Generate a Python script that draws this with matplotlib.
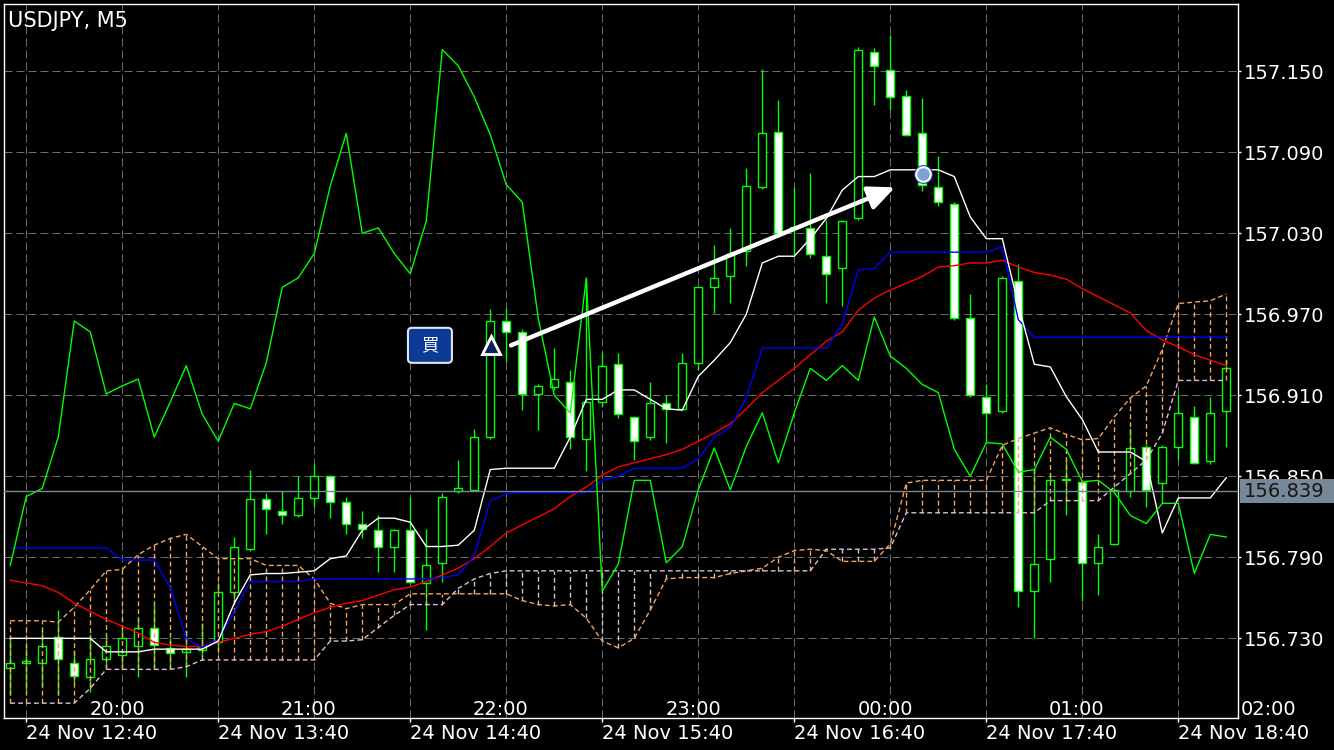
import matplotlib
matplotlib.use("Agg")
import matplotlib.pyplot as plt
import matplotlib.transforms as mtransforms
from matplotlib.patches import Rectangle, FancyBboxPatch
import numpy as np

plt.rcParams['font.family'] = ['DejaVu Sans']

# USDJPY M5 bars, left to right
opens = [156.708, 156.712, 156.712, 156.731, 156.712, 156.701, 156.715, 156.718, 156.724, 156.738,
         156.723, 156.720, 156.721, 156.727, 156.764, 156.796, 156.833, 156.824, 156.821, 156.834,
         156.850, 156.831, 156.815, 156.810, 156.798, 156.810, 156.771, 156.786, 156.839, 156.840,
         156.879, 156.965, 156.957, 156.911, 156.916, 156.920, 156.878, 156.905, 156.933, 156.894,
         156.879, 156.904, 156.900, 156.934, 156.990, 156.998, 157.017, 157.064, 157.105, 157.035,
         157.034, 157.013, 157.004, 157.041, 157.164, 157.151, 157.132, 157.104, 157.064, 157.052,
         156.967, 156.909, 156.898, 156.995, 156.765, 156.789, 156.848, 156.846, 156.786, 156.800,
         156.839, 156.872, 156.845, 156.872, 156.894, 156.861, 156.898]
highs = [156.730, 156.725, 156.736, 156.751, 156.721, 156.733, 156.731, 156.740, 156.744, 156.755,
         156.730, 156.736, 156.741, 156.771, 156.805, 156.855, 156.838, 156.839, 156.850, 156.859,
         156.851, 156.835, 156.824, 156.821, 156.811, 156.835, 156.811, 156.838, 156.862, 156.885,
         156.974, 156.975, 156.959, 156.918, 156.945, 156.929, 156.997, 156.942, 156.941, 156.895,
         156.920, 156.910, 156.941, 156.991, 157.021, 157.034, 157.078, 157.152, 157.129, 157.064,
         157.075, 157.040, 157.040, 157.168, 157.167, 157.177, 157.136, 157.130, 157.087, 157.053,
         156.985, 156.918, 156.998, 157.007, 156.856, 156.852, 156.862, 156.847, 156.807, 156.841,
         156.886, 156.873, 156.873, 156.911, 156.902, 156.909, 156.936]
lows = [156.688, 156.692, 156.694, 156.688, 156.697, 156.690, 156.707, 156.707, 156.701, 156.707,
        156.707, 156.701, 156.714, 156.721, 156.757, 156.795, 156.807, 156.815, 156.820, 156.827,
        156.819, 156.807, 156.804, 156.779, 156.779, 156.771, 156.736, 156.772, 156.838, 156.839,
        156.878, 156.935, 156.899, 156.884, 156.914, 156.870, 156.854, 156.901, 156.893, 156.862,
        156.877, 156.875, 156.899, 156.929, 156.971, 156.978, 157.006, 157.063, 157.027, 157.014,
        157.012, 156.978, 156.976, 157.040, 157.125, 157.121, 157.102, 157.061, 157.050, 156.966,
        156.909, 156.875, 156.897, 156.753, 156.730, 156.772, 156.821, 156.758, 156.762, 156.799,
        156.835, 156.827, 156.830, 156.862, 156.859, 156.859, 156.872]
closes = [156.712, 156.713, 156.724, 156.715, 156.702, 156.715, 156.724, 156.730, 156.738, 156.725,
          156.719, 156.722, 156.724, 156.764, 156.798, 156.833, 156.826, 156.821, 156.834, 156.850,
          156.831, 156.815, 156.811, 156.798, 156.810, 156.772, 156.784, 156.835, 156.841, 156.879,
          156.965, 156.957, 156.911, 156.917, 156.922, 156.879, 156.905, 156.932, 156.896, 156.876,
          156.904, 156.900, 156.934, 156.990, 156.997, 157.015, 157.065, 157.104, 157.030, 157.034,
          157.015, 157.000, 157.039, 157.166, 157.154, 157.131, 157.103, 157.066, 157.053, 156.967,
          156.910, 156.897, 156.997, 156.765, 156.785, 156.847, 156.847, 156.786, 156.798, 156.840,
          156.871, 156.840, 156.872, 156.897, 156.860, 156.897, 156.930]

# Ichimoku lines
tenkan = [156.730] * 6 + [156.720] * 3 + [156.722] * 4 + [
    156.728, 156.756, 156.777, 156.778, 156.778, 156.779, 156.780, 156.789, 156.791, 156.810,
    156.819, 156.819, 156.816, 156.798, 156.798, 156.799, 156.810, 156.855] + [156.856] * 4 + [
    156.879, 156.907, 156.907, 156.914, 156.914, 156.907, 156.900, 156.899, 156.924, 156.936,
    156.949, 156.970, 157.008, 157.013, 157.013, 157.026, 157.041, 157.062, 157.072, 157.072] + [157.077] * 4 + [
    157.072, 157.042, 157.026, 157.026, 156.977, 156.933, 156.931, 156.909, 156.892] + [156.868] * 3 + [
    156.861, 156.808] + [156.834] * 3 + [156.849]
kijun = [156.797] * 7 + [156.788] * 3 + [156.768, 156.730, 156.723, 156.729, 156.750] + [156.772] * 4 + \
    [156.774] * 8 + [156.775, 156.777, 156.791, 156.832, 156.837] + [156.838] * 5 + [156.847, 156.850] + \
    [156.856] * 4 + [156.863, 156.879, 156.886, 156.908] + [156.945] * 5 + [156.963, 157.003, 157.004] + \
    [157.016] * 7 + [157.020, 156.966] + [156.953] * 13
span_a = [156.743, 156.743, 156.743, 156.742, 156.753, 156.766, 156.780, 156.781, 156.792, 156.799,
          156.804, 156.807, 156.798, 156.789, 156.789, 156.789, 156.784, 156.784, 156.784, 156.774,
          156.756, 156.752, 156.755, 156.755, 156.755, 156.763, 156.763, 156.763, 156.763, 156.763,
          156.763, 156.763, 156.758, 156.755, 156.754, 156.755, 156.745, 156.728, 156.723, 156.730,
          156.751, 156.774, 156.775, 156.775, 156.775, 156.778, 156.780, 156.782, 156.790, 156.795,
          156.796, 156.795, 156.787, 156.787, 156.787, 156.800, 156.845, 156.847, 156.847, 156.847,
          156.847, 156.847, 156.873, 156.878, 156.882, 156.886, 156.881, 156.877, 156.878, 156.894,
          156.908, 156.917, 156.944, 156.978, 156.979, 156.980, 156.985]
span_b = [156.682] * 5 + [156.693] + [156.707] * 5 + [156.709, 156.714] + [156.714] * 7 + \
    [156.728, 156.728, 156.729, 156.738, 156.747] + [156.755] * 3 + [156.767, 156.774, 156.778] + \
    [156.780] * 20 + [156.796] * 4 + [156.797] + [156.823] * 9 + [156.832] * 4 + \
    [156.842, 156.852, 156.862, 156.882] + [156.921] * 4
chikou_tail = [156.921, 156.932, 156.921, 156.968, 156.939, 156.930, 156.918, 156.912, 156.870, 156.850,
               156.875, 156.874, 156.853, 156.855, 156.879, 156.870, 156.846, 156.847, 156.838, 156.821,
               156.815, 156.830, 156.830, 156.778, 156.807, 156.805]
ma_red = [156.773, 156.771, 156.769, 156.764, 156.756, 156.750, 156.744, 156.739, 156.734, 156.727,
          156.725, 156.724, 156.724, 156.727, 156.730, 156.733, 156.735, 156.739, 156.744, 156.749,
          156.753, 156.756, 156.758, 156.762, 156.766, 156.768, 156.772, 156.777, 156.782, 156.789,
          156.798, 156.808, 156.814, 156.820, 156.826, 156.835, 156.842, 156.851, 156.857, 156.860,
          156.863, 156.866, 156.870, 156.876, 156.882, 156.889, 156.900, 156.912, 156.921, 156.930,
          156.940, 156.950, 156.957, 156.973, 156.982, 156.988, 156.993, 156.998, 157.005, 157.006,
          157.008, 157.008, 157.010, 157.005, 157.001, 156.999, 156.996, 156.989, 156.983, 156.977,
          156.971, 156.958, 156.951, 156.946, 156.940, 156.936, 156.932]

price_ticks = [156.730, 156.790, 156.850, 156.910, 156.970, 157.030, 157.090, 157.150]
bottom_ticks = [1, 13, 25, 37, 49, 61, 73]
bottom_labels = ["24 Nov 12:40", "24 Nov 13:40", "24 Nov 14:40", "24 Nov 15:40",
                 "24 Nov 16:40", "24 Nov 17:40", "24 Nov 18:40"]
top_ticks = [7, 19, 31, 43, 55, 67, 79]
top_labels = ["20:00", "21:00", "22:00", "23:00", "00:00", "01:00", "02:00"]
bid = 156.839
buy_mark = (30.04, 156.947)
buy_label = (26.23, 156.947)
arrow_from = (31.3, 156.947)
arrow_to = (55.3, 157.064)
exit_mark = (57.03, 157.074)

LIME = '#00ff00'

fig = plt.figure(figsize=(13.34, 7.5), dpi=100, facecolor='black')
ax = fig.add_axes([4 / 1334, 32 / 750, 1234 / 1334, 714 / 750])
ax.set_facecolor('black')
n = len(closes)
x = np.arange(n)
ax.set_xlim(-0.39, 76.73)
ax.set_ylim(156.671, 157.1998)

# grid
for k in range(1, n, 6):
    ax.axvline(k, color='#6b6b6b', lw=0.72, ls=(0, (8, 4)), zorder=1)
for p in price_ticks:
    ax.axhline(p, color='#6b6b6b', lw=0.72, ls=(0, (8, 4)), zorder=1)

# candles
o = np.array(opens); c = np.array(closes)
body_lo = np.minimum(o, c)
body_h = np.maximum(np.abs(c - o), 0.0003)
faces = ['black' if cc >= oo else 'white' for oo, cc in zip(o, c)]
ax.vlines(x, lows, highs, color=LIME, lw=1, zorder=3)
ax.bar(x, body_h, bottom=body_lo, width=0.5, color=faces, edgecolor=LIME, linewidth=1, zorder=4)

# cloud
sa = np.array(span_a); sb = np.array(span_b)
hatch_col = ['#f4a460' if a >= b else '#d8bfd8' for a, b in zip(sa, sb)]
ax.vlines(x, np.minimum(sa, sb), np.maximum(sa, sb), colors=hatch_col, lw=1,
          linestyles=(0, (3.5, 2.2)), zorder=5)
ax.plot(x, sa, color='#f4a460', lw=1, ls=(0, (3.5, 2.2)), zorder=5)
ax.plot(x, sb, color='#d8bfd8', lw=1, ls=(0, (3.5, 2.2)), zorder=5)

# lines
chikou = closes[26:] + chikou_tail
ax.plot(x, ma_red, color='#ff0000', lw=1, zorder=6)
ax.plot(x, kijun, color='#0000ff', lw=1, zorder=6)
ax.plot(x, tenkan, color='white', lw=1, zorder=6)
ax.plot(x, chikou, color=LIME, lw=1, zorder=6)
ax.axhline(bid, color='#778899', lw=1, zorder=6.5)

# trade marks
ax.annotate('', xy=arrow_to, xytext=arrow_from,
            arrowprops=dict(arrowstyle='-|>,head_length=1.0,head_width=0.45', color='white',
                            lw=3.2, shrinkA=0, shrinkB=0, mutation_scale=16), zorder=8)
ax.plot(*buy_mark, '^', ms=15, mfc='#2a55c8', mec='#2a55c8', zorder=9)
ax.plot(*buy_mark, '^', ms=12.5, mfc='#0b1f5c', mec='white', mew=2, zorder=9.5)
ax.plot(*exit_mark, 'o', ms=12.5, mfc='#1a3f8f', mec='#1a3f8f', zorder=9)
ax.plot(*exit_mark, 'o', ms=10.5, mfc='#7da0d6', mec='white', mew=1.5, zorder=9.5)

trans_lbl = fig.dpi_scale_trans + mtransforms.ScaledTranslation(buy_label[0], buy_label[1], ax.transData)
ax.add_patch(FancyBboxPatch((-0.22, -0.175), 0.44, 0.35, boxstyle='round,pad=0,rounding_size=0.04',
                            transform=trans_lbl, fc='#0d3a94', ec='#dfe6f2', lw=1.5, zorder=10))
ax.text(buy_label[0], buy_label[1], '買', color='white', fontsize=12.5, ha='center', va='center',
        family=['Noto Sans CJK JP', 'DejaVu Sans'], zorder=11)

# axes styling
for s in ax.spines.values():
    s.set_color('white')
    s.set_linewidth(1)
ax.yaxis.tick_right()
ax.set_yticks(price_ticks, [f"{p:.3f}" for p in price_ticks])
ax.tick_params(axis='y', colors='white', length=2.5, width=1, pad=1.5, labelsize=14)
ax.set_xticks(bottom_ticks, bottom_labels)
ax.tick_params(axis='x', colors='white', length=3, width=1, pad=1, labelsize=14)
for lbl in ax.get_xticklabels():
    lbl.set_ha('left')

for k, lab in zip(top_ticks, top_labels):
    ax.text(k - 0.33, 0.012, lab, transform=ax.get_xaxis_transform(), ha='center', va='center',
            color='white', fontsize=14, clip_on=False)

# bid price box (covers lower half of the 156.850 label, as on the terminal)
trans_bid = fig.dpi_scale_trans + mtransforms.ScaledTranslation(1, bid, ax.get_yaxis_transform())
ax.add_patch(Rectangle((0.02, -0.12), 1.2, 0.24, transform=trans_bid, fc='#778899', ec='none',
                       clip_on=False, zorder=10))
ax.text(1.0049, bid, f"{bid:.3f}", transform=ax.get_yaxis_transform(), color='#151515',
        fontsize=14, va='center', ha='left', clip_on=False, zorder=11)

fig.text(8 / 1334, 1 - 21 / 750, "USDJPY, M5", color='white', fontsize=15, ha='left', va='center')

fig.savefig("out.png", dpi=100, facecolor='black')
